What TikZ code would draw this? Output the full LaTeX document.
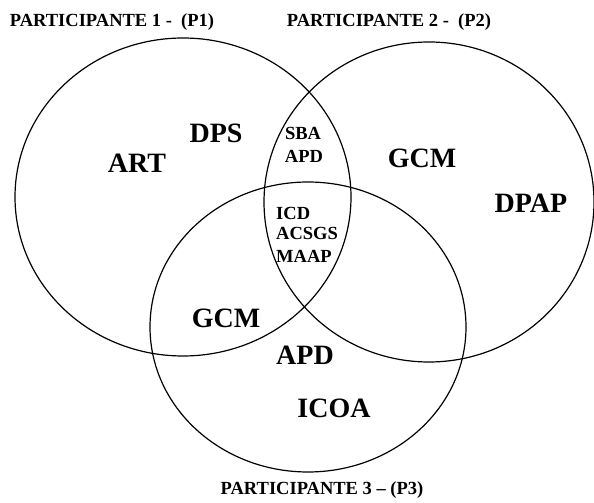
\documentclass[tikz,border=0pt]{standalone}
\usepackage{fontspec}
\setmainfont{Liberation Serif}
\usepackage{tikz}
\usetikzlibrary{positioning}

\tikzset{
	bigtag/.style={font=\fontsize{28}{30}\selectfont\bfseries, inner sep=0pt, anchor=base},
	smalltag/.style={font=\fontsize{18.5}{20}\selectfont\bfseries, inner sep=0pt, anchor=base},
	setline/.style={black, line width=1.2pt}
}

\begin{document}
\begin{tikzpicture} [x=1pt, y=1pt]
						\useasboundingbox (0, 0) rectangle (594, 503);

						\draw [setline] (183, 306) ellipse [x radius=168, y radius=159];

						\draw [setline] (429, 301) ellipse [x radius=165, y radius=160];

						\draw [setline] (308, 176) ellipse [x radius=158, y radius=145];

						\node [smalltag] (p1) at (112, 476) {PARTICIPANTE 1 -\ \ (P1)};
						\node [smalltag] (p2) at (389, 476) {PARTICIPANTE 2 -\ \ (P2)};
						\node [smalltag] (p3) at (322, 8) {PARTICIPANTE 3 -- (P3)};

						\node [bigtag] (dps) at (216, 360) {DPS};
						\node [bigtag] (art) at (137, 330) {ART};

						\node [bigtag] (gcmtwo) at (422, 335) {GCM};
						\node [bigtag] (dpap) at (531, 290) {DPAP};

						\node [bigtag] (gcmone) at (226, 175) {GCM};
						\node [bigtag] (apdthree) at (305, 138) {APD};
						\node [bigtag] (icoa) at (334, 85) {ICOA};

						\node [smalltag] (sba) at (303, 363) {SBA};
						\node [smalltag] (apdtwo) at (304, 340) {APD};

						\node [smalltag, anchor=base west] (icd) at (276, 283) {ICD};
						\node [smalltag, anchor=base west] (acsgs) at (276, 263) {ACSGS};
						\node [smalltag, anchor=base west] (maap) at (276, 240) {MAAP};

					\end{tikzpicture}
\end{document}
